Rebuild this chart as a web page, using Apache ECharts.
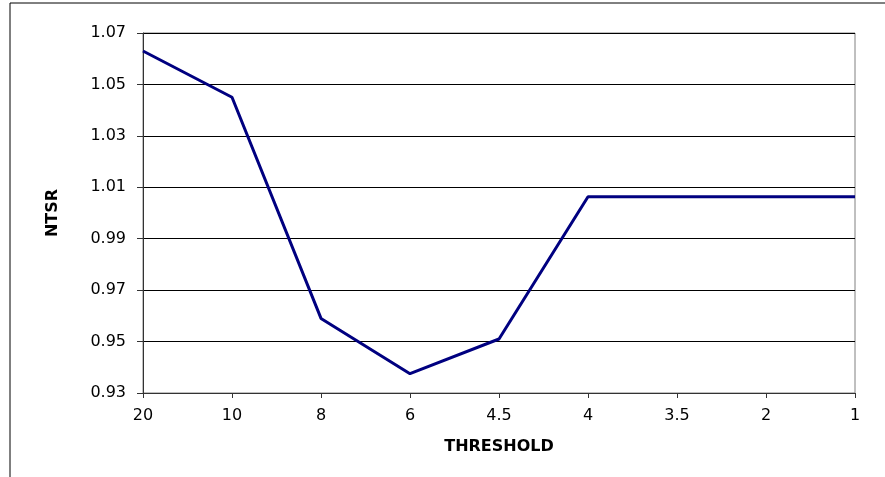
<!DOCTYPE html>
<html>
<head>
<meta charset="utf-8">
<script src="https://cdn.jsdelivr.net/npm/echarts@6/dist/echarts.min.js"></script>
<style>
  html, body { margin: 0; padding: 0; background: #fff; }
  #chart { width: 885px; height: 477px; }
</style>
</head>
<body>
<div id="chart"></div>
<script>
// threshold categories on the x axis
const thresholds = ["20", "10", "8", "6", "4.5", "4", "3.5", "2", "1"];
// NTSR values
const ntsr = [1.063, 1.045, 0.959, 0.9375, 0.951, 1.0063, 1.0063, 1.0063, 1.0063];
// y axis range
const yMin = 0.93;
const yMax = 1.07;
const yStep = 0.02;

const chart = echarts.init(document.getElementById("chart"), null, { renderer: "canvas" });

const font = "DejaVu Sans";

chart.setOption({
  animation: false,
  backgroundColor: "#fff",
  // outer chart frame (Excel style)
  graphic: [{
    type: "rect",
    shape: { x: 10, y: 3, width: 900, height: 500 },
    style: { fill: "none", stroke: "#000", lineWidth: 1 },
    silent: true
  }],
  grid: {
    left: 143, right: 30, top: 33, bottom: 84,
    show: true, borderColor: "#808080", borderWidth: 1,
    backgroundColor: "transparent"
  },
  xAxis: {
    type: "category",
    data: thresholds,
    boundaryGap: false,
    name: "THRESHOLD",
    nameLocation: "middle",
    nameGap: 46,
    nameTextStyle: { fontFamily: font, fontWeight: "bold", fontSize: 16, color: "#000" },
    axisLine: { lineStyle: { color: "#333", width: 1 } },
    axisTick: { show: true, length: 5, lineStyle: { color: "#333" } },
    axisLabel: { fontFamily: font, fontSize: 16, color: "#000", margin: 15 },
    splitLine: { show: false }
  },
  yAxis: {
    type: "value",
    min: yMin,
    max: yMax,
    interval: yStep,
    name: "NTSR",
    nameLocation: "middle",
    nameGap: 82,
    nameTextStyle: { fontFamily: font, fontWeight: "bold", fontSize: 16, color: "#000" },
    axisLine: { show: true, lineStyle: { color: "#333", width: 1 } },
    axisTick: { show: true, length: 6, lineStyle: { color: "#333" } },
    axisLabel: {
      fontFamily: font, fontSize: 16, color: "#000", margin: 17,
      formatter: v => v.toFixed(2)
    },
    splitLine: { show: true, lineStyle: { color: "#000", width: 1 } }
  },
  series: [{
    type: "line",
    data: ntsr,
    showSymbol: false,
    symbol: "none",
    lineStyle: { color: "#000080", width: 3 },
    itemStyle: { color: "#000080" }
  }]
});
</script>
</body>
</html>
